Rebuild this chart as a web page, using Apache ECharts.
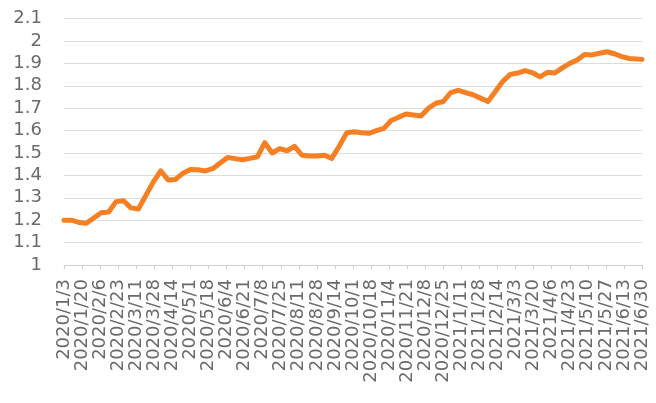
<!DOCTYPE html>
<html>
<head>
<meta charset="utf-8">
<script src="https://cdn.jsdelivr.net/npm/echarts@6/dist/echarts.min.js"></script>
<style>html,body{margin:0;padding:0;background:#fff}#c{width:656px;height:403px}</style>
</head>
<body>
<div id="c"></div>
<script>
const dates = [
"2020/1/3","2020/1/10","2020/1/17","2020/1/24","2020/1/31","2020/2/7","2020/2/14","2020/2/21","2020/2/28",
"2020/3/6","2020/3/13","2020/3/20","2020/3/27","2020/4/3","2020/4/10","2020/4/17","2020/4/24",
"2020/5/1","2020/5/8","2020/5/15","2020/5/22","2020/5/29","2020/6/5","2020/6/12","2020/6/19","2020/6/26",
"2020/7/3","2020/7/10","2020/7/17","2020/7/24","2020/7/31","2020/8/7","2020/8/14","2020/8/21","2020/8/28",
"2020/9/4","2020/9/11","2020/9/18","2020/9/25","2020/10/2","2020/10/9","2020/10/16","2020/10/23","2020/10/30",
"2020/11/6","2020/11/13","2020/11/20","2020/11/27","2020/12/4","2020/12/11","2020/12/18","2020/12/25",
"2021/1/1","2021/1/8","2021/1/15","2021/1/22","2021/1/29","2021/2/5","2021/2/12","2021/2/19","2021/2/26",
"2021/3/5","2021/3/12","2021/3/19","2021/3/26","2021/4/2","2021/4/9","2021/4/16","2021/4/23","2021/4/30",
"2021/5/7","2021/5/14","2021/5/21","2021/5/28","2021/6/4","2021/6/11","2021/6/18","2021/6/25","2021/6/30"
];
const values = [
1.20,1.20,1.19,1.186,1.21,1.233,1.237,1.283,1.287,
1.255,1.25,1.31,1.37,1.42,1.38,1.382,1.41,
1.426,1.425,1.42,1.43,1.455,1.48,1.475,1.47,1.476,
1.483,1.546,1.50,1.52,1.51,1.53,1.49,1.487,1.487,
1.49,1.476,1.53,1.59,1.595,1.59,1.588,1.60,1.61,
1.645,1.66,1.674,1.67,1.665,1.70,1.722,1.73,
1.77,1.78,1.77,1.76,1.745,1.73,1.775,1.82,1.851,
1.857,1.868,1.858,1.84,1.86,1.857,1.88,1.90,1.915,
1.94,1.938,1.945,1.952,1.943,1.93,1.922,1.92,1.918
];
const startDate = "2020/1/3";
const endDate = "2021/6/30";
const labelStepDays = 17;
const yTicks = [1,1.1,1.2,1.3,1.4,1.5,1.6,1.7,1.8,1.9,2,2.1];

function toUTC(s){const p=s.split('/').map(Number);return Date.UTC(p[0],p[1]-1,p[2]);}
const DAY=86400000;
const t0=toUTC(startDate);
const dayOf = s => Math.round((toUTC(s)-t0)/DAY);
function fmt(d){const dt=new Date(t0+d*DAY);return dt.getUTCFullYear()+'/'+(dt.getUTCMonth()+1)+'/'+dt.getUTCDate();}

const seriesData = dates.map((d,i)=>[dayOf(d), values[i]]);
const font = 'DejaVu Sans';
const chart = echarts.init(document.getElementById('c'), null, {renderer:'canvas'});
chart.setOption({
  animation:false,
  backgroundColor:'#fff',
  grid:{left:64,right:14,top:18.6,bottom:138},
  xAxis:{
    type:'value', min:0, max:dayOf(endDate), interval:labelStepDays,
    axisLine:{show:true,lineStyle:{color:'#d0d0d0',width:1}},
    axisTick:{show:true,length:4,lineStyle:{color:'#d0d0d0'}},
    splitLine:{show:false},
    axisLabel:{rotate:90,margin:14,fontFamily:font,fontSize:18,color:'#6a6a6a',formatter:v=>fmt(v),showMinLabel:true,showMaxLabel:true,hideOverlap:false}
  },
  yAxis:{
    type:'value', min:yTicks[0], max:yTicks[yTicks.length-1], interval:0.1,
    axisLine:{show:false}, axisTick:{show:false},
    splitLine:{lineStyle:{color:'#dcdcdc',width:1}},
    axisLabel:{margin:22,fontFamily:font,fontSize:18,color:'#6a6a6a',formatter:v=>String(Math.round(v*10)/10)}
  },
  series:[{type:'line',data:seriesData,showSymbol:false,symbol:'none',
    lineStyle:{color:'#F57F22',width:5,join:'round',cap:'round'}}]
});
</script>
</body>
</html>
